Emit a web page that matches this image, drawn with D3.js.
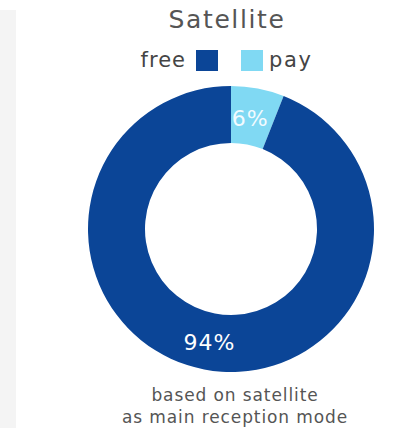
<!DOCTYPE html>
<html>
<head>
<meta charset="utf-8">
<script src="https://cdn.jsdelivr.net/npm/d3@7"></script>
<style>
  body { margin: 0; background: #fff; }
  svg text { font-family: "DejaVu Sans", sans-serif; }
</style>
</head>
<body>
<svg id="chart" width="411" height="433"></svg>
<script>
// data
var categories = ["free", "pay"];
var values = [94, 6];
var colors = ["#0b4597", "#80d9f3"];
var title = "Satellite";
var note = ["based on satellite", "as main reception mode"];

var svg = d3.select("#chart");

// grey side strip
svg.append("rect")
  .attr("x", 0).attr("y", 10)
  .attr("width", 16).attr("height", 418)
  .attr("fill", "#f4f4f4");

// title
svg.append("text")
  .attr("x", 227).attr("y", 28)
  .attr("text-anchor", "middle")
  .style("font-size", "25px")
  .style("letter-spacing", "1.6px")
  .style("fill", "#555")
  .text(title);

// legend
var legend = svg.append("g");
legend.append("text")
  .attr("x", 186).attr("y", 67)
  .attr("text-anchor", "end")
  .style("font-size", "21px")
  .style("letter-spacing", "1px")
  .style("fill", "#444")
  .text(categories[0]);
legend.append("rect")
  .attr("x", 196).attr("y", 50).attr("width", 22).attr("height", 21)
  .attr("fill", colors[0]);
legend.append("rect")
  .attr("x", 241).attr("y", 50).attr("width", 22).attr("height", 21)
  .attr("fill", colors[1]);
legend.append("text")
  .attr("x", 269).attr("y", 67)
  .style("font-size", "21px")
  .style("letter-spacing", "1.6px")
  .style("fill", "#444")
  .text(categories[1]);

// donut
var cx = 231, cy = 229, outerR = 143, innerR = 86;

var pie = d3.pie().sort(null).value(function(d) { return d.v; });
var data = categories.map(function(c, i) { return {name: c, v: values[i], color: colors[i]}; });
// pay slice starts at 12 o'clock, then free continues clockwise
var arcs = pie([data[1], data[0]]);
var arc = d3.arc().innerRadius(innerR).outerRadius(outerR);

var g = svg.append("g").attr("transform", "translate(" + cx + "," + cy + ")");
g.selectAll("path")
  .data(arcs)
  .enter()
  .append("path")
  .attr("d", arc)
  .attr("fill", function(d) { return d.data.color; });

// labels
var labelPos = {
  pay: function(d) { var a = (d.startAngle + d.endAngle) / 2; var r = 113; return [Math.sin(a) * r - 2, -Math.cos(a) * r]; },
  free: function(d) { var a = Math.PI * 1.06; var r = 115; return [Math.sin(a) * r, -Math.cos(a) * r]; }
};
g.selectAll("text.lbl")
  .data(arcs)
  .enter()
  .append("text")
  .attr("class", "lbl")
  .attr("transform", function(d) { return "translate(" + labelPos[d.data.name](d) + ")"; })
  .attr("text-anchor", "middle")
  .attr("dy", "0.35em")
  .style("font-size", "22px")
  .style("letter-spacing", "1px")
  .style("fill", function(d) { return d.data.name === "pay" ? "#f2fbff" : "#fff"; })
  .text(function(d) { return d.data.v + "%"; });

// note below
svg.append("text")
  .attr("x", 235).attr("y", 401)
  .attr("text-anchor", "middle")
  .style("font-size", "17px")
  .style("letter-spacing", "0.9px")
  .style("fill", "#555")
  .selectAll("tspan")
  .data(note)
  .enter()
  .append("tspan")
  .attr("x", 235)
  .attr("dy", function(d, i) { return i === 0 ? 0 : 22; })
  .text(function(d) { return d; });
</script>
</body>
</html>
